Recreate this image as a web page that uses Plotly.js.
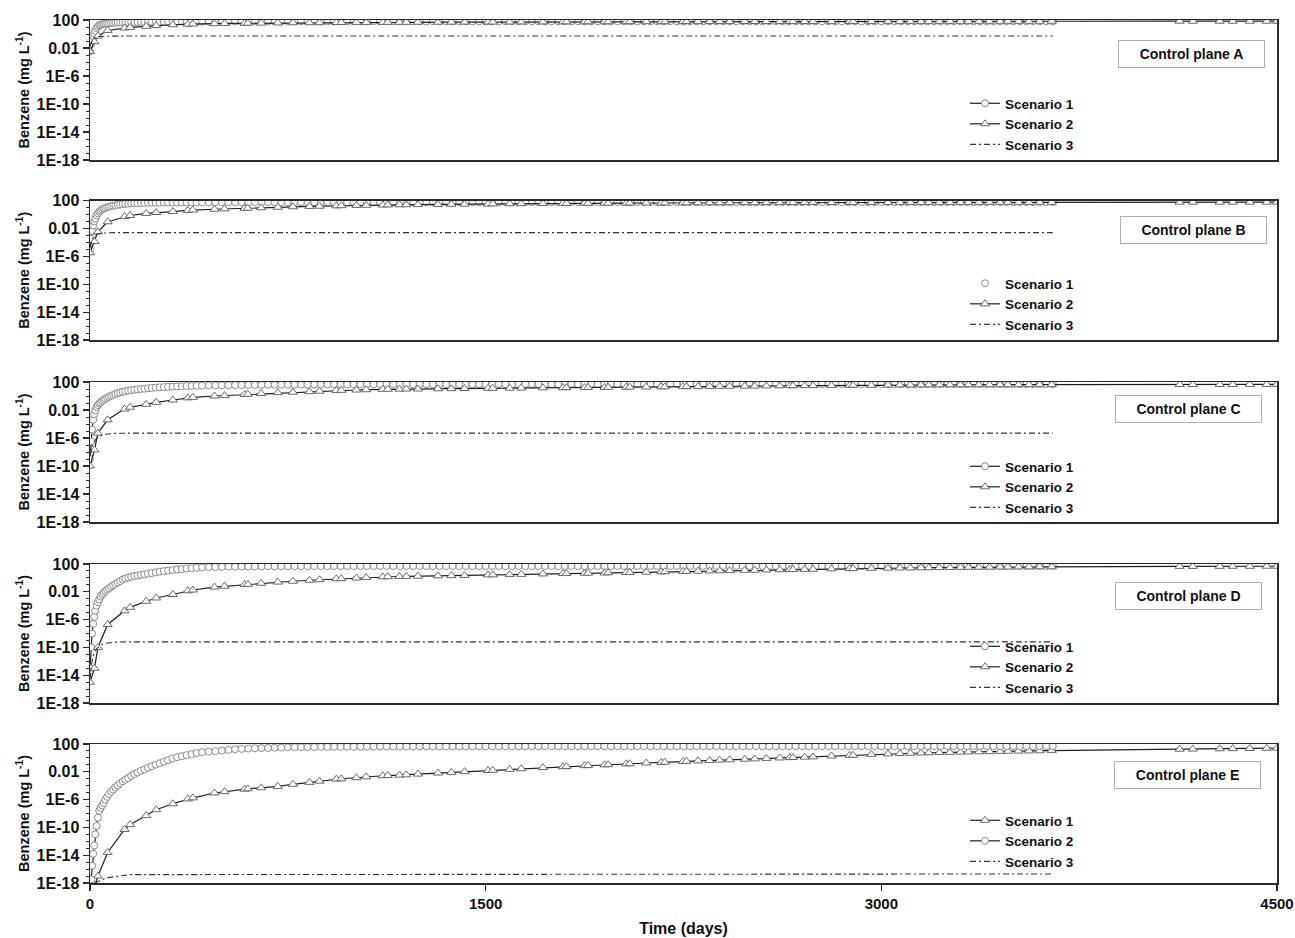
<!DOCTYPE html>
<html><head><meta charset="utf-8">
<script src="https://cdn.plot.ly/plotly-3.0.1.min.js"></script>
<style>html,body{margin:0;padding:0;background:#fff;} #chart{width:1295px;height:938px;}</style>
</head><body><div id="chart"></div>
<script>
// ---------- DATA ----------
// time grids (days)
const daysCircle = [0,4,8,12,16,20,25,30,35,40,46,52,58,65,72,80,88,96,105,114,124,134,145,156,168,180,193,206,220,234,249,264,280,296,313,330,348,366,385,404,425,
450,475,500,525,550,575,600,625,650,675,
700,725,750,775,800,825,850,875,900,925,
950,975,1000,1025,1050,1075,1100,1125,1150,1175,
1200,1225,1250,1275,1300,1325,1350,1375,1400,1425,
1450,1475,1500,1525,1550,1575,1600,1625,1650,1675,
1700,1725,1750,1775,1800,1825,1850,1875,1900,1925,
1950,1975,2000,2025,2050,2075,2100,2125,2150,2175,
2200,2225,2250,2275,2300,2325,2350,2375,2400,2425,
2450,2475,2500,2525,2550,2575,2600,2625,2650,2675,
2700,2725,2750,2775,2800,2825,2850,2875,2900,2925,
2950,2975,3000,3025,3050,3075,3100,3125,3150,3175,
3200,3225,3250,3275,3300,3325,3350,3375,3400,3425,
3450,3475,3500,3525,3550,3575,3600,3625,3650];

const daysTriangle = [0,17,30,67,131,152,213,251,314,371,
390,472,510,586,598,649,712,769,832,870,
934,953,1010,1047,1110,1129,1173,1199,1243,1319,
1370,1420,1509,1527,1591,1635,1717,1793,1806,1875,
1888,1951,1964,2033,2046,2109,2166,2179,2248,2261,
2305,2349,2387,2425,2482,2520,2564,2615,2653,2665,
2709,2741,2811,2880,2893,2962,3025,3070,3110,3150,
3180,3220,3260,3300,3330,3370,3410,3450,3480,3520,
3560,3600,3646,4131,4181,4283,4332,4397,4461,4500];

const daysScen3 = [0,5,10,20,30,45,60,90,150,3650];

// Benzene (mg/L) – circle-marker series
const circleA = [0.0032,0.032,0.16,0.5,1.1,2.8,7,11,18,21,25,28,32,33,35,38,40,42,44,45,47,48,49,50,51,52,54,55,55,56,56,57,57,58,58,58,59,59,59,60,60,
60,61,61,61,61,62,62,62,62,62,
62,63,63,63,63,63,63,63,63,63,
63,63,63,64,64,64,64,64,64,64,
64,64,64,64,64,64,64,64,64,64,
64,64,64,64,64,65,65,65,65,65,
65,65,65,65,65,65,65,65,65,65,
65,65,65,65,65,65,65,65,65,65,
65,65,65,65,65,65,65,65,65,65,
65,65,65,65,65,65,65,65,65,65,
65,65,65,65,65,65,65,65,65,65,
65,65,65,65,65,65,65,65,65,65,
65,65,65,65,65,65,65,65,65,65,
65,65,65,65,65,65,65,65,65];
const circleB = [1e-5,3.2e-4,0.004,0.025,0.1,0.25,0.71,1.4,2.4,3.5,5.2,7.1,8.9,11,12.6,15,18,20,23,27,30,33,35,38,40,42,44,45,46,47,48,49,50,50,51,51,52,52,53,53,54,
54,55,55,55,56,56,56,56,57,57,
57,57,57,57,58,58,58,58,58,58,
58,58,58,58,58,58,58,58,58,58,
58,58,58,58,58,58,58,58,58,58,
58,58,58,58,58,58,58,58,58,58,
58,58,58,58,58,58,58,58,58,58,
59,59,59,59,59,59,59,59,59,59,
59,59,59,59,59,59,59,59,59,59,
59,59,59,59,59,59,59,59,59,59,
59,59,59,59,59,59,59,59,59,59,
59,59,59,59,59,59,59,59,59,59,
59,59,59,59,59,59,59,59,59,59,
59,59,59,59,59,59,59,59,59];
const circleC = [1e-9,3.2e-7,1.6e-5,4e-4,2.5e-3,8.9e-3,0.025,0.05,0.083,0.126,0.2,0.28,0.4,0.56,0.79,1.07,1.4,2,2.6,3.3,4,4.8,5.8,6.8,7.8,8.9,10,11.2,12.6,14,15.8,17.4,19,20.4,21.9,23.4,25,26.3,27.5,28.8,30,
32,33,34,35,36,37,38,38,39,40,
40,41,41,42,42,43,43,44,44,45,
45,45,46,46,46,47,47,47,47,48,
48,48,48,48,48,48,48,48,48,48,
48,48,48,49,49,49,49,49,49,49,
49,49,49,49,49,49,49,49,49,49,
49,49,49,49,49,49,49,49,49,49,
49,49,49,49,49,49,49,49,49,49,
49,49,49,49,49,49,49,49,49,49,
50,50,50,50,50,50,50,50,50,50,
50,50,50,50,50,50,50,50,50,50,
50,50,50,50,50,50,50,50,50,50,
50,50,50,50,50,50,50,50,50];
const circleD = [1e-13,1e-10,1e-8,2.5e-7,2.5e-6,2e-5,1e-4,3.2e-4,7.9e-4,2e-3,4e-3,7.1e-3,0.0126,0.02,0.032,0.056,0.089,0.14,0.22,0.35,0.56,0.79,1.12,1.48,1.86,2.2,2.7,3.3,4,5,6.3,7.9,9.5,11.2,13.2,15.8,18.6,21.9,25,28.8,32.4,
35,37,39,41,42,43,44,45,46,47,
47,48,48,49,49,50,50,50,50,51,
51,51,51,51,51,51,51,51,51,51,
51,51,51,51,51,51,51,51,51,51,
51,51,51,51,51,51,51,51,51,51,
51,51,51,51,51,51,51,51,51,51,
52,52,52,52,52,52,52,52,52,52,
52,52,52,52,52,52,52,52,52,52,
52,52,52,52,52,52,52,52,52,52,
52,52,52,52,52,52,52,52,52,52,
52,52,52,52,52,52,52,52,52,52,
52,52,52,52,52,52,52,52,52,52,
52,52,52,52,52,52,52,52,52];
const circleE = [1e-19,3.2e-18,3.2e-16,1.6e-14,2.5e-13,1e-11,1.6e-10,2.5e-9,2.5e-8,6.3e-8,1.4e-7,3.2e-7,1e-6,2.5e-6,6.3e-6,1.4e-5,2.8e-5,5.6e-5,1.1e-4,2.2e-4,4.2e-4,7.6e-4,1.3e-3,2.5e-3,4.8e-3,7.9e-3,0.014,0.022,0.038,0.063,0.105,0.17,0.28,0.47,0.83,1.26,1.78,2.5,3.5,5,6.6,
8,9.5,11.2,14,18,20,22,24,26,27.5,
29.5,31.6,33,35,35.5,36,37,38,38,39,
39,40,40,41,41,41,42,42,42,43,
43,43,43,44,44,44,44,44,45,45,
45,45,45,45,46,46,46,46,46,46,
46,47,47,47,47,47,47,47,47,47,
47,47,47,47,47,47,47,47,47,47,
47,47,48,48,48,48,48,48,48,48,
48,48,48,48,48,48,48,48,48,48,
48,48,48,48,49,49,49,49,49,49,
49,49,49,49,49,49,49,49,49,49,
49,49,49,49,49,49,49,49,49,49,
50,50,50,50,50,50,50,50,50];

// Benzene (mg/L) – triangle-marker series
const triA = [0.0032,0.079,0.5,3.2,7.1,8.9,12.6,15.8,21,25,
27,30,32,34,35,36,38,40,41,42,
43,44,45,45,46,46,47,47,48,49,
50,50,51,52,52,53,54,55,55,56,
56,56,57,57,57,58,58,58,59,59,
59,60,60,60,61,61,61,62,62,62,
62,63,63,63,63,64,64,64,64,64,
65,65,65,65,65,65,66,66,66,66,
66,66,66,67,67,67,67,67,67,67];
const triB = [3.2e-6,1.3e-4,3.2e-3,0.089,0.5,0.71,1.4,1.9,2.6,3.8,
4.3,5.6,6.3,7.6,7.9,9.1,10.7,12.6,14,15,
17,18,19.5,20.4,22.4,23,24,24.5,25.7,27.5,
28.8,30,31.6,32.4,34,34.7,36.3,38,38,40,
40,40.7,40.7,41.7,42.7,43.7,44.7,44.7,45.7,45.7,
46.8,46.8,47.9,47.9,49,49,50,50,51,51,
51,52,52,52,53,53,53,54,54,54,
54,55,55,55,55,55,56,56,56,56,
56,56,56,57,57,58,58,58,58,58];
const triC = [1e-10,2e-8,5e-6,4e-4,0.0138,0.025,0.065,0.126,0.27,0.54,
0.63,1.0,1.15,1.66,1.78,2.3,3.0,3.5,4.2,4.8,
6.2,6.5,7.2,7.9,8.9,9.1,9.5,9.8,10,10.7,
11.2,11.7,12.6,12.6,13.2,13.8,14.5,15.5,15.5,16.2,
16.6,17.4,17.4,18.2,18.6,19.5,20.4,20.4,21.4,21.9,
22.4,23.4,24,24.5,25.7,26.3,27.5,28.2,29.5,29.5,
30.2,30.9,32.4,33.9,34.7,35.5,37.2,38,38,38.9,
38.9,39.8,40,40.5,40.7,41,41,41.5,41.7,41.7,
42,42,42,43,43,44,44,45,45,45];
const triD = [1e-15,1e-13,1e-10,2e-7,1.86e-5,5.8e-5,4.3e-4,1.3e-3,4.1e-3,0.014,
0.018,0.048,0.063,0.11,0.12,0.17,0.25,0.33,0.46,0.54,
0.74,0.79,0.95,1.12,1.41,1.48,1.58,1.66,1.78,2.0,
2.1,2.3,2.7,2.75,3.0,3.2,3.7,4.2,4.3,4.7,
4.8,5.2,5.4,6.0,6.2,6.8,7.4,7.6,8.5,8.7,
9.3,10,10.5,11.2,12.3,12.9,13.8,14.8,15.8,15.8,
17,17.8,19.5,21.4,21.9,23.4,25.1,26.3,27.5,28.8,
29.5,30.9,31.6,33.1,33.9,34.7,35.5,36.3,37.2,38,
38.9,39.8,39.8,44.7,44.7,45.7,46.8,46.8,47.9,47.9];
const triE = [1e-19,3.2e-19,1e-17,2.5e-14,5e-11,2.5e-10,5e-9,3.5e-8,2.5e-7,1.26e-6,
1.8e-6,8.9e-6,1.4e-5,3.2e-5,3.5e-5,5e-5,7.9e-5,1.6e-4,3e-4,4.5e-4,
8.9e-4,1e-3,1.4e-3,1.9e-3,2.7e-3,2.9e-3,3.3e-3,3.7e-3,4.7e-3,6.6e-3,
8.3e-3,0.0105,0.015,0.0166,0.022,0.0275,0.04,0.054,0.058,0.076,
0.079,0.1,0.107,0.138,0.145,0.186,0.22,0.24,0.3,0.32,
0.37,0.43,0.48,0.54,0.65,0.72,0.83,0.98,1.1,1.15,
1.29,1.41,1.86,2.3,2.4,3.2,3.8,4.3,4.7,5.1,
5.5,5.9,6.3,6.8,7.2,7.6,8.1,8.7,9.1,9.5,
10,10.7,11.2,17.8,18.6,20.4,21.4,22.9,24,25.1];

// Benzene (mg/L) – Scenario 3 (dash-dot)
const scen3A = [0.016,0.063,0.16,0.32,0.42,0.48,0.5,0.51,0.51,0.51];
const scen3B = [1.6e-5,1e-4,3.2e-4,1e-3,1.6e-3,2.1e-3,2.3e-3,2.5e-3,2.5e-3,2.5e-3];
const scen3C = [3.2e-9,2.5e-8,1e-7,5e-7,1.26e-6,2.5e-6,3.5e-6,4.5e-6,5e-6,5e-6];
const scen3D = [3.2e-15,3.2e-13,4e-12,3.2e-11,1e-10,2.5e-10,4e-10,5.6e-10,6.3e-10,6.3e-10];
const scen3E = [1e-20,3.2e-20,1.6e-19,1e-18,1.6e-18,3.2e-18,5e-18,7.9e-18,1.6e-17,2e-17];

const panelLabels = ['Control plane A','Control plane B','Control plane C','Control plane D','Control plane E'];
const yTickVals = [1e-18,1e-14,1e-10,1e-6,0.01,100];
const yTickText = ['1E-18','1E-14','1E-10','1E-6','0.01','100'];
const yMinorVals = [1e-17,1e-16,1e-15,1e-13,1e-12,1e-11,1e-9,1e-8,1e-7,1e-5,1e-4,1e-3,0.1,1,10];
const xTickVals = [0,1500,3000,4500];
const xTickText = ['0','1500','3000','4500'];
const yTitle = 'Benzene (mg L<sup>-1</sup>)';
const xTitle = 'Time (days)';

// ---------- LAYOUT GEOMETRY ----------
const FONT = 'Liberation Sans, Arial, Helvetica, sans-serif';
const plotL = 90, plotR = 1277, plotT = 20, plotB = 883;
const panelPx = [[20,160],[200.5,340],[382,522],[564,703],[744,883]];
const legendTopPx = [88,268,451,631,805];
const legendLeftPx = 965;
const boxCenterPx = [[1191,53.5],[1193,230],[1188,409],[1188,596],[1187,775]];
const xp = px => (px - plotL) / (plotR - plotL);
const yp = py => (plotB - py) / (plotB - plotT);

const panels = [
  {circ:circleA, tri:triA, s3:scen3A, circName:'Scenario 1', triName:'Scenario 2', triFirst:false, circLegendLine:true},
  {circ:circleB, tri:triB, s3:scen3B, circName:'Scenario 1', triName:'Scenario 2', triFirst:false, circLegendLine:false},
  {circ:circleC, tri:triC, s3:scen3C, circName:'Scenario 1', triName:'Scenario 2', triFirst:false, circLegendLine:true},
  {circ:circleD, tri:triD, s3:scen3D, circName:'Scenario 1', triName:'Scenario 2', triFirst:false, circLegendLine:true},
  {circ:circleE, tri:triE, s3:scen3E, circName:'Scenario 2', triName:'Scenario 1', triFirst:true, circLegendLine:true}
];

const lineMain = {color:'#1e1e1e', width:1.2};
const circMarker = {symbol:'circle', size:7, color:'#ffffff', line:{color:'#8a8a8a', width:1}};
const triMarker = {symbol:'triangle-up', size:8, color:'#ffffff', line:{color:'#6a6a6a', width:1}};
const s3Line = {color:'#333333', width:1.1, dash:'6px,3px,2px,3px'};

const traces = [];
const layout = {
  width:1295, height:938, paper_bgcolor:'#fff', plot_bgcolor:'#fff',
  margin:{l:plotL, r:1295-plotR, t:plotT, b:938-plotB, autoexpand:false},
  font:{family:FONT, color:'#111'},
  hovermode:false,
  annotations:[]
};

panels.forEach((p, i) => {
  const n = i + 1;
  const sfx = n === 1 ? '' : String(n);
  const xa = 'x' + sfx, ya = 'y' + sfx, lg = 'legend' + sfx;

  const circTrace = {x:daysCircle, y:p.circ, xaxis:xa, yaxis:ya, legend:lg, name:p.circName,
    type:'scatter', mode: p.circLegendLine ? 'lines+markers' : 'markers', line:lineMain, marker:circMarker};
  const triTrace = {x:daysTriangle, y:p.tri, xaxis:xa, yaxis:ya, legend:lg, name:p.triName,
    type:'scatter', mode:'lines+markers', line:lineMain, marker:triMarker};
  const s3Trace = {x:daysScen3, y:p.s3, xaxis:xa, yaxis:ya, legend:lg, name:'Scenario 3',
    type:'scatter', mode:'lines', line:s3Line};

  if (!p.circLegendLine) {
    traces.push({x:daysCircle, y:p.circ, xaxis:xa, yaxis:ya, legend:lg, showlegend:false,
      type:'scatter', mode:'lines', line:lineMain});
  }
  if (p.triFirst) { traces.push(triTrace, circTrace); } else { traces.push(circTrace, triTrace); }
  traces.push(s3Trace);

  const [tp, bp] = panelPx[i];
  const isBottom = n === 5;
  const xaxis = {
    domain:[0,1], anchor:ya, range:[0,4500], showgrid:false, zeroline:false,
    showline:true, mirror:true, linecolor:'#2a2a2a', linewidth:1.5,
    ticks: isBottom ? 'outside' : '', ticklen:6, tickwidth:1.2, tickcolor:'#2a2a2a',
    tickmode:'array', tickvals:xTickVals, ticktext:xTickText,
    showticklabels:isBottom,
    tickfont:{family:'Liberation Sans Narrow, Arial Narrow, ' + FONT, size:15, weight:'bold', color:'#111'}
  };
  if (isBottom) {
    xaxis.title = {text:xTitle, standoff:12, font:{family:'Liberation Sans Narrow, Arial Narrow, ' + FONT, size:16, weight:'bold', color:'#111'}};
  }
  layout['xaxis' + sfx] = xaxis;
  layout['yaxis' + sfx] = {
    domain:[yp(bp), yp(tp)], anchor:xa, type:'log', range:[-18,2],
    showgrid:false, zeroline:false, showline:true, mirror:true, linecolor:'#2a2a2a', linewidth:1.5,
    tickmode:'array', tickvals:yTickVals, ticktext:yTickText,
    ticks:'outside', ticklen:6, tickwidth:1.2, tickcolor:'#2a2a2a',
    minor:{tickmode:'array', tickvals:yMinorVals, ticks:'outside', ticklen:3, tickwidth:1, tickcolor:'#2a2a2a', showgrid:false},
    tickfont:{family:FONT, size:16, weight:'bold', color:'#111'},
    automargin:false,
    title:{text:yTitle, standoff:3, font:{family:FONT, size:14.5, weight:'bold', color:'#111'}}
  };
  layout[lg] = {
    x:xp(legendLeftPx), xref:'paper', xanchor:'left',
    y:yp(legendTopPx[i]), yref:'paper', yanchor:'top',
    bgcolor:'rgba(0,0,0,0)', borderwidth:0, tracegroupgap:0, itemwidth:30,
    font:{family:FONT, size:13.5, weight:'bold', color:'#111'}
  };
  const [bx, by] = boxCenterPx[i];
  layout.annotations.push({
    text:panelLabels[i], xref:'paper', yref:'paper', x:xp(bx), y:yp(by),
    xanchor:'center', yanchor:'middle', showarrow:false,
    width:137, height:18, borderpad:4, bordercolor:'#b0b0b0', borderwidth:1, bgcolor:'#ffffff',
    font:{family:FONT, size:14, weight:'bold', color:'#111'}
  });
});

Plotly.newPlot('chart', traces, layout, {staticPlot:true, displayModeBar:false});
</script>
</body></html>
